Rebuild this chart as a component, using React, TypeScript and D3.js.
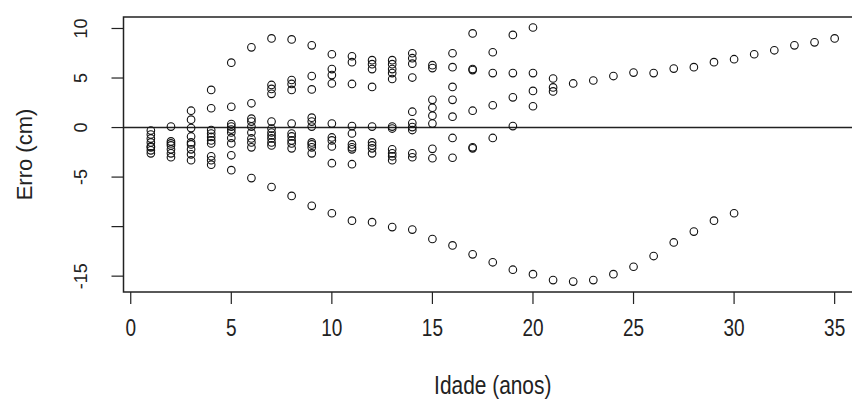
import React from "react";
import * as d3 from "d3";

// Age (years) of each group of observations
const ages: number[] = [
  1, 2, 3, 4, 5, 6, 7, 8, 9, 10, 11, 12, 13, 14, 15, 16, 17, 18, 19, 20,
  21, 22, 23, 24, 25, 26, 27, 28, 29, 30, 31, 32, 33, 34, 35,
];

// Error (cm) values observed at each age
const errors: number[][] = [
  [-0.3, -0.7, -1.1, -1.5, -1.9, -2.0, -2.3, -2.6],
  [0.1, -1.4, -1.6, -1.8, -2.2, -2.6, -3.0],
  [1.7, 0.8, -0.05, -0.9, -1.5, -1.7, -2.2, -2.7, -3.3],
  [3.8, 1.95, -0.25, -0.6, -0.95, -1.3, -1.6, -2.9, -3.3, -3.75],
  [6.55, 2.1, 0.35, 0.1, -0.2, -0.5, -1.05, -1.6, -2.8, -4.3],
  [8.1, 2.45, 0.9, 0.6, 0.1, -0.5, -1.1, -1.5, -2.0, -5.1],
  [9.0, 4.3, 3.9, 3.4, 0.6, -0.1, -0.5, -0.8, -1.1, -1.5, -1.8, -6.0],
  [8.9, 4.8, 4.4, 3.8, 0.4, -0.6, -0.9, -1.3, -1.6, -2.1, -6.9],
  [8.3, 5.2, 3.85, 1.0, 0.6, 0.1, -1.5, -1.7, -2.0, -2.6, -7.9],
  [7.4, 5.9, 5.3, 4.45, 0.4, -1.0, -1.3, -1.9, -3.6, -8.65],
  [7.2, 6.6, 4.4, 0.15, -0.6, -1.7, -2.0, -2.2, -3.7, -9.4],
  [6.8, 6.4, 5.9, 4.1, 0.1, -1.5, -1.8, -2.1, -2.6, -9.55],
  [6.8, 6.4, 5.9, 5.5, 4.9, 0.1, -0.1, -2.2, -2.6, -2.9, -3.3, -10.05],
  [7.5, 7.0, 6.45, 5.05, 1.6, 0.45, 0.05, -0.25, -2.6, -3.0, -10.3],
  [6.3, 6.0, 2.8, 2.0, 1.2, 0.4, -2.15, -3.1, -11.25],
  [7.5, 6.1, 4.1, 2.8, 1.1, -1.05, -3.05, -11.9],
  [9.5, 5.9, 5.8, 1.7, -2.0, -2.1, -12.8],
  [7.6, 5.5, 2.25, -1.05, -13.6],
  [9.35, 5.5, 3.05, 0.15, -14.35],
  [10.1, 5.5, 3.7, 2.15, -14.8],
  [4.95, 4.05, 3.65, -15.4],
  [4.45, -15.55],
  [4.75, -15.4],
  [5.2, -14.8],
  [5.55, -14.05],
  [5.5, -12.97],
  [5.95, -11.6],
  [6.1, -10.5],
  [6.6, -9.4],
  [6.9, -8.65],
  [7.4],
  [7.8],
  [8.3],
  [8.6],
  [9.0],
];

const xTicks: number[] = [0, 5, 10, 15, 20, 25, 30, 35];
const yTicks: number[] = [-15, -10, -5, 0, 5, 10];
const yTickLabels: string[] = ["-15", "", "-5", "0", "5", "10"];

const xTitle = "Idade (anos)";
const yTitle = "Erro (cm)";

const W = 852;
const H = 410;

export default function App() {
  const x = d3.scaleLinear().domain([-0.36, 36.36]).range([123.5, 862]);
  const y = d3.scaleLinear().domain([-16.6, 11.16]).range([292, 17]);

  const points = ages.flatMap((a, i) => errors[i].map((v) => ({ a, v })));
  const font = "'Liberation Sans', Arial, sans-serif";
  const col = "#222";
  const tickLen = 12;
  const x0 = x(-0.36);
  const x1 = x(36.36);

  return (
    <svg
      width={W}
      height={H}
      style={{ position: "absolute", left: 0, top: 0, background: "#fff" }}
      fontFamily={font}
    >
      <rect x={0} y={0} width={W} height={H} fill="#fff" />
      {/* plot box */}
      <rect
        x={x0}
        y={y(11.16)}
        width={x1 - x0}
        height={y(-16.6) - y(11.16)}
        fill="none"
        stroke={col}
        strokeWidth={1.5}
      />
      {/* zero reference line */}
      <line x1={x0} x2={x1} y1={y(0)} y2={y(0)} stroke={col} strokeWidth={1.5} />
      {/* x axis */}
      {xTicks.map((t) => (
        <g key={"xt" + t}>
          <line
            x1={x(t)}
            x2={x(t)}
            y1={y(-16.6)}
            y2={y(-16.6) + tickLen}
            stroke={col}
            strokeWidth={1.2}
          />
          <text
            transform={`translate(${x(t)},328) scale(0.95,1.2)`}
            textAnchor="middle"
            dominantBaseline="central"
            fontSize={20}
            fill={col}
          >
            {t}
          </text>
        </g>
      ))}
      {/* y axis */}
      {yTicks.map((t, i) => (
        <g key={"yt" + t}>
          <line
            x1={x0 - tickLen}
            x2={x0}
            y1={y(t)}
            y2={y(t)}
            stroke={col}
            strokeWidth={1.2}
          />
          <text
            transform={`translate(81,${y(t)}) rotate(-90)`}
            textAnchor="middle"
            dominantBaseline="central"
            fontSize={18}
            fill={col}
          >
            {yTickLabels[i]}
          </text>
        </g>
      ))}
      {/* titles */}
      <text
        transform={`translate(${(x0 + x1) / 2},385) scale(0.95,1.2)`}
        textAnchor="middle"
        dominantBaseline="central"
        fontSize={22}
        fill={col}
      >
        {xTitle}
      </text>
      <text
        transform={`translate(24,${(y(11.16) + y(-16.6)) / 2}) rotate(-90)`}
        textAnchor="middle"
        dominantBaseline="central"
        fontSize={22}
        fill={col}
      >
        {yTitle}
      </text>
      {/* points */}
      {points.map((p, i) => (
        <circle
          key={i}
          cx={x(p.a)}
          cy={y(p.v)}
          r={3.8}
          fill="none"
          stroke="#111"
          strokeWidth={1.1}
        />
      ))}
    </svg>
  );
}
